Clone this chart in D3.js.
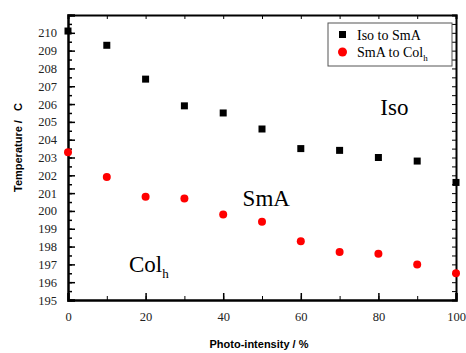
<!DOCTYPE html>
<html>
<head>
<meta charset="utf-8">
<script src="https://cdn.jsdelivr.net/npm/d3@7"></script>
<style>
  body { margin: 0; background: #fff; }
  .axis path, .axis line { stroke: #000; }
</style>
</head>
<body>
<svg id="chart" width="466" height="353"></svg>
<script>
// photo-intensity (%)
var intensity = [0, 10, 20, 30, 40, 50, 60, 70, 80, 90, 100];
// Iso -> SmA transition temperatures
var isoToSmA = [210.1, 209.3, 207.4, 205.9, 205.5, 204.6, 203.5, 203.4, 203.0, 202.8, 201.6];
// SmA -> Colh transition temperatures
var smaToCol = [203.3, 201.9, 200.8, 200.7, 199.8, 199.4, 198.3, 197.7, 197.6, 197.0, 196.5];

var xTicks = [0, 20, 40, 60, 80, 100];
var yTicks = [195, 196, 197, 198, 199, 200, 201, 202, 203, 204, 205, 206, 207, 208, 209, 210];

var margin = { top: 15, right: 10, bottom: 53, left: 68 };
var width = 466 - margin.left - margin.right;
var height = 353 - margin.top - margin.bottom;

var serif = "'Liberation Serif', 'Times New Roman', serif";
var sans = "'Liberation Sans', Arial, sans-serif";

var svg = d3.select("#chart")
  .append("g")
  .attr("transform", "translate(" + margin.left + "," + margin.top + ")");

var x = d3.scaleLinear().domain([0, 100]).range([0, width]);
var y = d3.scaleLinear().domain([195, 211]).range([height, 0]);

// minor ticks first, then major ones with labels
var xMinor = d3.range(0, 101, 10);
var yMinor = d3.range(195, 211.01, 0.5);

var styleLabels = function (g) {
  g.selectAll(".tick text")
    .attr("font-family", serif)
    .attr("font-size", 12.5)
    .attr("fill", "#222");
};

svg.append("g").attr("class", "axis")
  .attr("transform", "translate(0," + height + ")")
  .call(d3.axisBottom(x).tickValues(xMinor).tickSize(-4).tickFormat(""))
  .call(g => g.select(".domain").remove());
svg.append("g").attr("class", "axis")
  .attr("transform", "translate(0," + height + ")")
  .call(d3.axisBottom(x).tickValues(xTicks).tickSize(-7).tickPadding(12))
  .call(g => g.select(".domain").attr("stroke-width", 2.5))
  .call(g => g.selectAll(".tick line").attr("stroke-width", 1.5))
  .call(styleLabels);

svg.append("g").attr("class", "axis")
  .call(d3.axisTop(x).tickValues(xMinor).tickSize(-4).tickFormat(""))
  .call(g => g.select(".domain").attr("stroke-width", 2));

svg.append("g").attr("class", "axis")
  .call(d3.axisLeft(y).tickValues(yMinor).tickSize(-4).tickFormat(""))
  .call(g => g.select(".domain").remove())
  .call(g => g.selectAll(".tick line").attr("stroke-width", 1.5));
svg.append("g").attr("class", "axis")
  .call(d3.axisLeft(y).tickValues(yTicks).tickSize(-7).tickPadding(11).tickFormat(d3.format("d")))
  .call(g => g.select(".domain").attr("stroke-width", 2.5))
  .call(g => g.selectAll(".tick line").attr("stroke-width", 1.5))
  .call(styleLabels);

svg.append("g").attr("class", "axis")
  .attr("transform", "translate(" + width + ",0)")
  .call(d3.axisRight(y).tickValues(yMinor).tickSize(-4).tickFormat(""))
  .call(g => g.select(".domain").attr("stroke-width", 2));

// squares
svg.selectAll(".sq")
  .data(intensity)
  .enter()
  .append("rect")
  .attr("class", "sq")
  .attr("x", function (d) { return x(d) - 3.5; })
  .attr("y", function (d, i) { return y(isoToSmA[i]) - 3.5; })
  .attr("width", 7)
  .attr("height", 7)
  .attr("fill", "#000");

// circles
svg.selectAll(".dot")
  .data(intensity)
  .enter()
  .append("circle")
  .attr("class", "dot")
  .attr("cx", function (d) { return x(d); })
  .attr("cy", function (d, i) { return y(smaToCol[i]); })
  .attr("r", 4)
  .attr("fill", "#f00");

// phase labels
svg.append("text").attr("x", x(80.5)).attr("y", y(205.4))
  .attr("font-family", serif).attr("font-size", 23).text("Iso");
svg.append("text").attr("x", x(45)).attr("y", y(200.3))
  .attr("font-family", serif).attr("font-size", 23).text("SmA");
var colLbl = svg.append("text").attr("x", x(15.7)).attr("y", y(196.6))
  .attr("font-family", serif).attr("font-size", 23);
colLbl.append("tspan").text("Col");
colLbl.append("tspan").attr("font-size", 13).attr("dy", 6).text("h");

// legend
var lg = svg.append("g").attr("transform", "translate(" + (328 - margin.left) + "," + (23 - margin.top) + ")");
lg.append("rect").attr("width", 124).attr("height", 43)
  .attr("fill", "#fff").attr("stroke", "#555").attr("stroke-width", 1);
lg.append("rect").attr("x", 11).attr("y", 8).attr("width", 7).attr("height", 7).attr("fill", "#000");
lg.append("circle").attr("cx", 14.5).attr("cy", 29).attr("r", 4.5).attr("fill", "#f00");
lg.append("text").attr("x", 29).attr("y", 17)
  .attr("font-family", serif).attr("font-size", 14).text("Iso to SmA");
var l2 = lg.append("text").attr("x", 29).attr("y", 34)
  .attr("font-family", serif).attr("font-size", 14);
l2.append("tspan").text("SmA to Col");
l2.append("tspan").attr("font-size", 9).attr("dy", 4).text("h");

// axis titles
svg.append("text")
  .attr("transform", "translate(" + (-46) + "," + (height / 2 - 10) + ") rotate(-90)")
  .attr("text-anchor", "middle")
  .attr("font-family", sans).attr("font-weight", "bold").attr("font-size", 11)
  .attr("xml:space", "preserve")
  .text("Temperature /   C");
svg.append("text")
  .attr("x", width / 2 - 3).attr("y", height + 48)
  .attr("text-anchor", "middle")
  .attr("font-family", sans).attr("font-weight", "bold").attr("font-size", 11)
  .text("Photo-intensity / %");
</script>
</body>
</html>
